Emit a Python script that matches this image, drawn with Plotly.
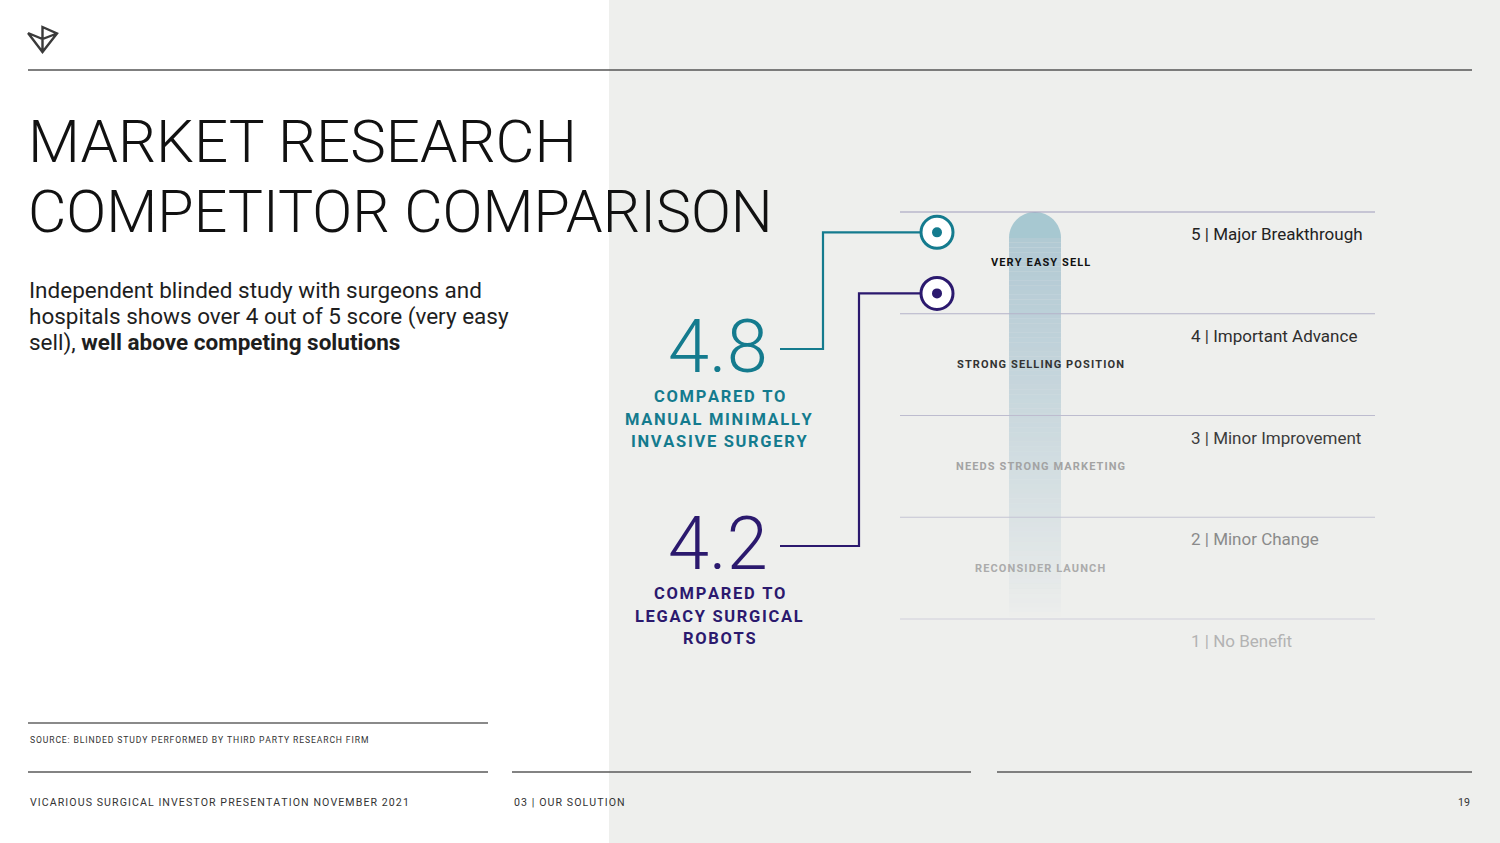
#!/usr/bin/env python3
"""
Market research slide: competitor comparison on a 1-5 scale.
"""

import plotly.graph_objects as go

W, H = 1500, 843

# Scale data
SCALE_SCORES = [5, 4, 3, 2, 1]
SCALE_NAMES = ["Major Breakthrough", "Important Advance", "Minor Improvement",
               "Minor Change", "No Benefit"]
BAND_LABELS = ["VERY EASY SELL", "STRONG SELLING POSITION",
               "NEEDS STRONG MARKETING", "RECONSIDER LAUNCH"]
BAND_CENTERS = [4.5, 3.5, 2.5, 1.5]

# Results
RESULT_VALUES = [4.8, 4.2]
RESULT_TEXT = ["4.8", "4.2"]
RESULT_LABELS = [["COMPARED TO", "MANUAL MINIMALLY", "INVASIVE SURGERY"],
                 ["COMPARED TO", "LEGACY SURGICAL", "ROBOTS"]]

# Colors
TEAL = '#147b8e'
PURPLE = '#2b196e'
RESULT_COLORS = [TEAL, PURPLE]
NAME_COLORS = ['#222222', '#2e2e2e', '#3c3c3c', '#8a8a8a', '#b3b3b3']
BAND_COLORS = ['#111111', '#333333', '#a3a3a3', '#ababab']
LINE_COLORS = ['#9d9bbb', '#b3b2c8', '#bdbccf', '#c4c4d3', '#cfcfdb']
PANEL_BG = '#eeefed'
FONT = 'Roboto'

# Pixel anchors of the score axis (score 5 -> top line, score 1 -> bottom line)
TOP_PX, BOTTOM_PX = 212, 619
PPU = (BOTTOM_PX - TOP_PX) / (max(SCALE_SCORES) - min(SCALE_SCORES))


def px_to_score(py):
    return max(SCALE_SCORES) - (py - TOP_PX) / PPU


def tracked(s):
    # letter spacing via hair spaces
    return '\u200a'.join(s)


fig = go.Figure()

# Horizontal scale lines
for score, color in zip(SCALE_SCORES, LINE_COLORS):
    fig.add_trace(go.Scatter(
        x=[900, 1375], y=[score, score], yaxis='y2',
        mode='lines', line=dict(color=color, width=1.2),
        hoverinfo='skip', showlegend=False
    ))

# Connector lines + ring markers
label_py = [349, 546]
elbow_px = [823, 859]
for val, color, lpy, ex in zip(RESULT_VALUES, RESULT_COLORS, label_py, elbow_px):
    ly = px_to_score(lpy)
    fig.add_trace(go.Scatter(
        x=[780, ex, ex, 937], y=[ly, ly, val, val], yaxis='y2',
        mode='lines', line=dict(color=color, width=2.2),
        hoverinfo='skip', showlegend=False
    ))
    fig.add_trace(go.Scatter(
        x=[937], y=[val], yaxis='y2', mode='markers',
        marker=dict(size=32, color='white', line=dict(color=color, width=3)),
        hoverinfo='skip', showlegend=False
    ))
    fig.add_trace(go.Scatter(
        x=[937], y=[val], yaxis='y2', mode='markers',
        marker=dict(size=10, color=color, line=dict(width=0)),
        hoverinfo='skip', showlegend=False
    ))

shapes = []

# Background panel
shapes.append(dict(type='rect', xref='x', yref='y', x0=609, x1=W, y0=0, y1=H,
                   fillcolor=PANEL_BG, line_width=0, layer='below'))

# Gradient bar (rounded top, fading out towards score 1)
top = max(SCALE_SCORES)
bottom = min(SCALE_SCORES) + 0.02
bx0, bx1 = 1009, 1061
r = (bx1 - bx0) / 2 / PPU
yc = top - r
k = 0.5523
cx = (bx0 + bx1) / 2
hw = (bx1 - bx0) / 2
cap = (f"M {bx0},{yc} C {bx0},{yc + k * r} {cx - k * hw},{top} {cx},{top} "
       f"C {cx + k * hw},{top} {bx1},{yc + k * r} {bx1},{yc} Z")
shapes.append(dict(type='path', xref='x', yref='y2', path=cap,
                   fillcolor='rgb(148,189,201)', opacity=0.78, line_width=0,
                   layer='below'))
n_seg = 80
for i in range(n_seg):
    y_hi = yc - (yc - bottom) * i / n_seg
    y_lo = yc - (yc - bottom) * (i + 1) / n_seg
    t = (i + 0.5) / n_seg
    op = 0.78 * (1 - t) ** 0.85
    shapes.append(dict(type='rect', xref='x', yref='y2', x0=bx0, x1=bx1,
                       y0=y_lo, y1=y_hi, fillcolor='rgb(160,190,204)',
                       opacity=op, line_width=0, layer='below'))

# Logo
shapes.append(dict(type='path', xref='x', yref='y',
                   path="M 28,33 L 42.5,52 L 57,33.5 L 42.5,27 L 42.5,52 "
                        "M 28,33 L 42.5,39 L 57,33.5",
                   line=dict(color='#3a3a3a', width=2.4)))

# Header / footer rules
for x0, x1, y, c, w in [(28, 1472, 70, '#555555', 1.4),
                        (28, 488, 723, '#8a8a8a', 2),
                        (28, 488, 772, '#5a5a5a', 1.5),
                        (512, 971, 772, '#5a5a5a', 1.5),
                        (997, 1472, 772, '#5a5a5a', 1.5)]:
    shapes.append(dict(type='line', xref='x', yref='y', x0=x0, x1=x1, y0=y, y1=y,
                       line=dict(color=c, width=w)))

annotations = []


def txt(x, y, text, size, color='#1a1a1a', weight=400, xanchor='left',
        yref='y', yshift=0, height=None):
    a = dict(
        x=x, y=y, xref='x', yref=yref, text=text, showarrow=False,
        xanchor=xanchor, yanchor='middle', align='left', yshift=yshift,
        font=dict(family=FONT, size=size, color=color, weight=weight)
    )
    if height:
        a['height'] = height
    annotations.append(a)


# Title and subtitle
txt(26, 141, "MARKET RESEARCH", 60, '#111111', 300)
txt(26, 211, "COMPETITOR COMPARISON", 59, '#111111', 300)
txt(27, 290, "Independent blinded study with surgeons and", 22.5, '#1e1e1e')
txt(27, 316, "hospitals shows over 4 out of 5 score (very easy", 22.5, '#1e1e1e')
txt(27, 342, "sell), <b>well above competing solutions</b>", 22.5, '#1e1e1e')

# Result numbers and their captions
for num, lines, color, lpy in zip(RESULT_TEXT, RESULT_LABELS, RESULT_COLORS, label_py):
    txt(718, lpy - 3, num, 74, color, 300, xanchor='center', height=58)
    for j, line in enumerate(lines):
        txt(719, lpy + 47 + j * 22.5, tracked(line), 16.5, color, 700,
            xanchor='center', height=20)

# Scale names on the right
for score, name, color in zip(SCALE_SCORES, SCALE_NAMES, NAME_COLORS):
    txt(1189, score, f"{score} | {name}", 17, color, 400, yref='y2', yshift=-22)

# Band labels over the bar
for c, lab, color in zip(BAND_CENTERS, BAND_LABELS, BAND_COLORS):
    txt(1040, c, tracked(lab), 11, color, 700, xanchor='center', yref='y2')

# Footer
txt(28, 740, tracked("SOURCE: BLINDED STUDY PERFORMED BY THIRD PARTY RESEARCH FIRM"),
    8.6, '#333333')
txt(28, 802, tracked("VICARIOUS SURGICAL INVESTOR PRESENTATION NOVEMBER 2021"),
    10.6, '#333333')
txt(512, 802, tracked("03 | OUR SOLUTION"), 10.6, '#333333')
txt(1472, 802, "19", 10.6, '#333333', xanchor='right')

y2_range = [px_to_score(H), px_to_score(0)]

fig.update_layout(
    width=W, height=H,
    margin=dict(l=0, r=0, t=0, b=0),
    paper_bgcolor='white', plot_bgcolor='white',
    showlegend=False,
    xaxis=dict(range=[0, W], visible=False, fixedrange=True),
    yaxis=dict(range=[H, 0], visible=False, fixedrange=True),
    yaxis2=dict(range=y2_range, overlaying='y', visible=False, fixedrange=True),
    shapes=shapes,
    annotations=annotations,
)

fig.write_html("out.html", config={'displayModeBar': False},
               post_script="document.body.style.margin='0';"
                           "document.body.style.overflow='hidden';")
